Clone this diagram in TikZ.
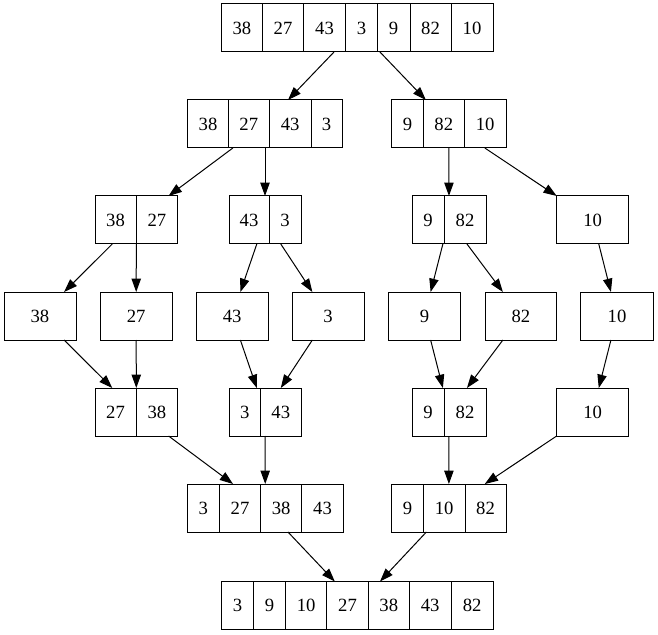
\documentclass[tikz,border=0pt]{standalone}
\usepackage{fontspec}
\setmainfont{Liberation Serif}
\usetikzlibrary{arrows.meta}
\tikzset{
  cellst/.style={draw=black, line width=0.75pt, minimum height=36pt, inner sep=0pt, font=\fontsize{14}{16}\selectfont},
  recst/.style={minimum height=36pt, inner sep=0pt, outer sep=0pt},
  edgest/.style={line width=0.75pt, -{Triangle[length=10pt,width=7pt]}}
}
\newcommand\cel[5]{%
  \pgfmathsetmacro\cx{(#2+#3)/2}\pgfmathsetmacro\cw{(#3-#2)*0.75}\pgfmathsetmacro\cy{#4+24}%
  \node[cellst, minimum width=\cw pt] (#1) at (\cx,\cy) {#5};}
\newcommand\rec[4]{%
  \pgfmathsetmacro\cx{(#2+#3)/2}\pgfmathsetmacro\cw{(#3-#2)*0.75}\pgfmathsetmacro\cy{#4+24}%
  \node[recst, minimum width=\cw pt] (#1) at (\cx,\cy) {};}
\begin{document}
\begin{tikzpicture}[x=0.75pt,y=-0.75pt]
\useasboundingbox[fill=white] (0,0) rectangle (658,635);
% Row 1
\rec{Ra}{221}{493}{4}
\cel{Ra1}{221}{262.7}{4}{38}\cel{Ra2}{262.7}{303.3}{4}{27}\cel{Ra3}{303.3}{345.7}{4}{43}
\cel{Ra4}{345.7}{377.3}{4}{3}\cel{Ra5}{377.3}{410}{4}{9}\cel{Ra6}{410}{451}{4}{82}\cel{Ra7}{451}{493}{4}{10}
% Row 2
\rec{Rb}{187.7}{342.3}{100}
\cel{Rb1}{187.7}{228.3}{100}{38}\cel{Rb2}{228.3}{269.3}{100}{27}\cel{Rb3}{269.3}{311}{100}{43}\cel{Rb4}{311}{342.3}{100}{3}
\rec{Rc}{391.7}{506}{100}
\cel{Rc1}{391.7}{423.3}{100}{9}\cel{Rc2}{423.3}{464.3}{100}{82}\cel{Rc3}{464.3}{506}{100}{10}
% Row 3
\rec{Rd}{95}{177.7}{196}
\cel{Rd1}{95}{136}{196}{38}\cel{Rd2}{136}{177.7}{196}{27}
\rec{Re}{229}{301}{196}
\cel{Re1}{229}{269}{196}{43}\cel{Re2}{269}{301}{196}{3}
\rec{Rf}{412}{486}{196}
\cel{Rf1}{412}{444}{196}{9}\cel{Rf2}{444}{486}{196}{82}
\rec{Rg}{556.7}{628.7}{196}
\cel{Rg1}{556.7}{628.7}{196}{10}
% Row 4
\rec{La}{4}{76}{292}\cel{La1}{4}{76}{292}{38}
\rec{Lb}{100}{172.3}{292}\cel{Lb1}{100}{172.3}{292}{27}
\rec{Lc}{196}{268.3}{292}\cel{Lc1}{196}{268.3}{292}{43}
\rec{Ld}{292.3}{364}{292}\cel{Ld1}{292.3}{364}{292}{3}
\rec{Le}{388.3}{460.7}{292}\cel{Le1}{388.3}{460.7}{292}{9}
\rec{Lf}{485}{556.7}{292}\cel{Lf1}{485}{556.7}{292}{82}
\rec{Lg}{580.7}{653.3}{292}\cel{Lg1}{580.7}{653.3}{292}{10}
% Row 5
\rec{Ma}{95}{177.7}{388}
\cel{Ma1}{95}{136}{388}{27}\cel{Ma2}{136}{177.7}{388}{38}
\rec{Mb}{229}{301}{388}
\cel{Mb1}{229}{260.5}{388}{3}\cel{Mb2}{260.5}{301}{388}{43}
\rec{Mc}{412}{486}{388}
\cel{Mc1}{412}{444}{388}{9}\cel{Mc2}{444}{486}{388}{82}
\rec{Md}{556.7}{628.7}{388}
\cel{Md1}{556.7}{628.7}{388}{10}
% Row 6
\rec{Na}{187.3}{343.3}{484}
\cel{Na1}{187.3}{219.3}{484}{3}\cel{Na2}{219.3}{260.7}{484}{27}\cel{Na3}{260.7}{301.7}{484}{38}\cel{Na4}{301.7}{343.3}{484}{43}
\rec{Nb}{391.7}{506}{484}
\cel{Nb1}{391.7}{423.3}{484}{9}\cel{Nb2}{423.3}{465}{484}{10}\cel{Nb3}{465}{506}{484}{82}
% Row 7
\rec{Oa}{221.7}{493.3}{581.5}
\cel{Oa1}{221.7}{253.3}{581.5}{3}\cel{Oa2}{253.3}{285.7}{581.5}{9}\cel{Oa3}{285.7}{326.7}{581.5}{10}
\cel{Oa4}{326.7}{368.3}{581.5}{27}\cel{Oa5}{368.3}{409.3}{581.5}{38}\cel{Oa6}{409.3}{451}{581.5}{43}\cel{Oa7}{451}{493.3}{581.5}{82}
% Edges
\draw[edgest] (Ra) -- (Rb);
\draw[edgest] (Ra) -- (Rc);
\draw[edgest] (Rb) -- (Rd);
\draw[edgest] (Rb) -- (Re);
\draw[edgest] (Rc) -- (Rf);
\draw[edgest] (Rc) -- (Rg);
\draw[edgest] (Rd) -- (La);
\draw[edgest] (Rd) -- (Lb);
\draw[edgest] (Re) -- (Lc);
\draw[edgest] (Re) -- (Ld);
\draw[edgest] (Rf) -- (Le);
\draw[edgest] (Rf) -- (Lf);
\draw[edgest] (Rg) -- (Lg);
\draw[edgest] (La) -- (Ma);
\draw[edgest] (Lb) -- (Ma);
\draw[edgest] (Lc) -- (Mb);
\draw[edgest] (Ld) -- (Mb);
\draw[edgest] (Le) -- (Mc);
\draw[edgest] (Lf) -- (Mc);
\draw[edgest] (Lg) -- (Md);
\draw[edgest] (Ma) -- (Na);
\draw[edgest] (Mb) -- (Na);
\draw[edgest] (Mc) -- (Nb);
\draw[edgest] (Md) -- (Nb);
\draw[edgest] (Na) -- (Oa);
\draw[edgest] (Nb) -- (Oa);
\end{tikzpicture}
\end{document}
